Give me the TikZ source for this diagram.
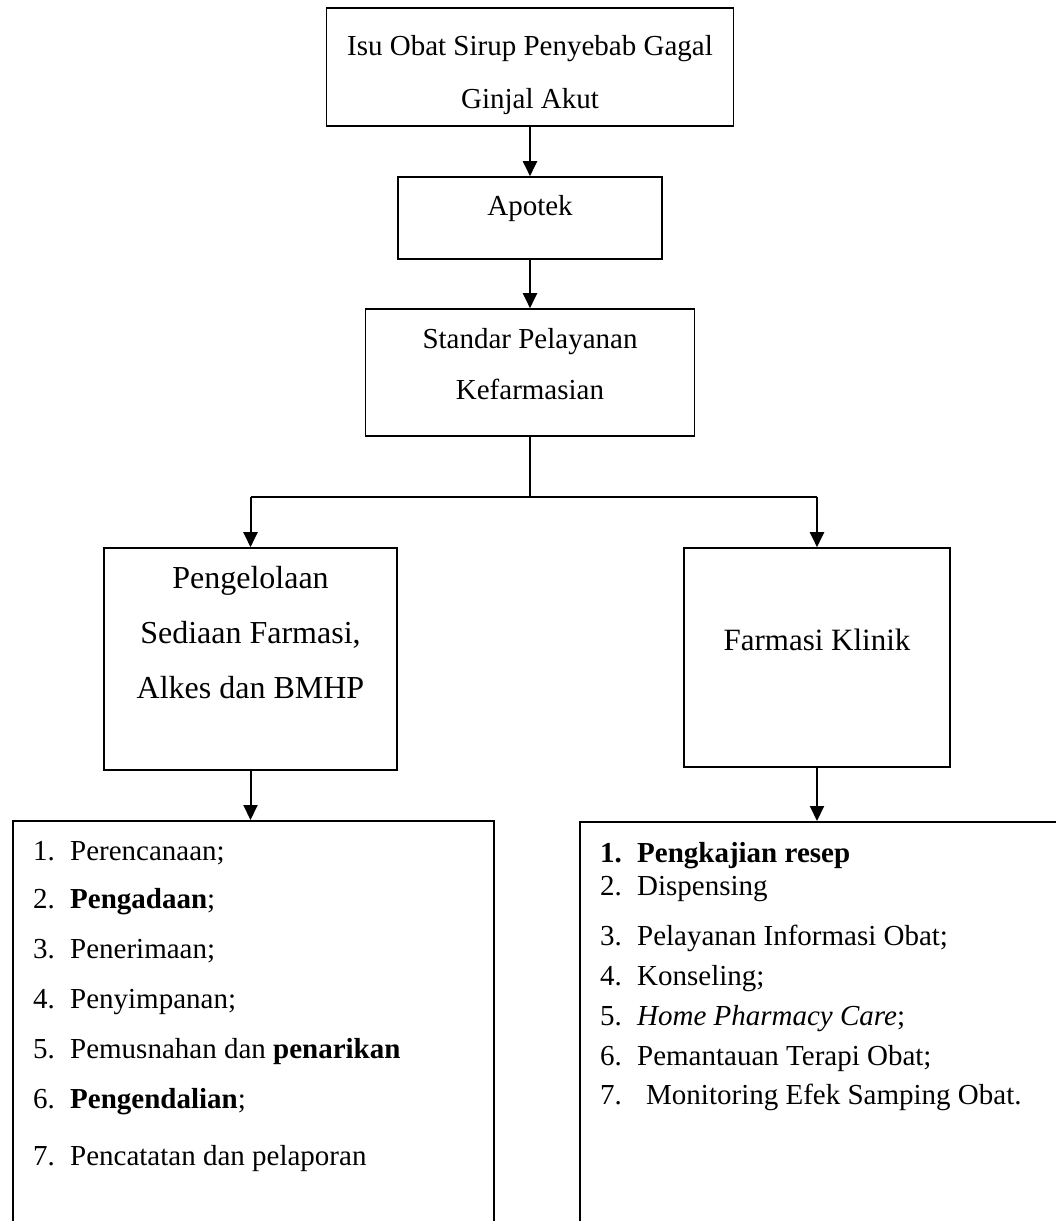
\documentclass[tikz,border=0pt]{standalone}
\usepackage{fontspec}
\setmainfont{Liberation Serif}
\usetikzlibrary{arrows.meta,positioning}
\newcommand{\butir}[3][37pt]{\makebox[#1][l]{#2}#3}

\begin{document}
\begin{tikzpicture}[x=1pt,y=-1pt,>={Triangle[width=14pt,length=15pt]}]
	\tikzstyle{kotak}=[draw, rectangle, line width=1.6pt, inner sep=0pt, anchor=base, align=center, font=\fontsize{29}{53}\selectfont]
	\tikzstyle{daftar}=[draw, rectangle, line width=1.6pt, inner sep=0pt, anchor=north west, minimum height=500pt]
	\tikzstyle{butir}=[anchor=base west, inner sep=0pt, font=\fontsize{29}{35}\selectfont]
	\tikzstyle{panah}=[->, line width=2pt]
	\tikzstyle{garis}=[line width=1.2pt]
	
	\path[use as bounding box, clip] (0,0) rectangle (1056,1221);
	
	% base = last line of the text
	\node[kotak, minimum width=407pt, text height=100pt, text depth=18pt] (isu) at (530,108) {Isu Obat Sirup Penyebab Gagal\\Ginjal Akut};
	\node[kotak, minimum width=264pt, text height=38pt, text depth=44pt] (apotek) at (530,215) {Apotek};
	\node[kotak, minimum width=329pt, text height=90pt, text depth=37pt, font=\fontsize{29}{51}\selectfont] (standar) at (530,399) {Standar Pelayanan\\Kefarmasian};
	\node[kotak, minimum width=293pt, text height=150pt, text depth=72pt, font=\fontsize{32}{55}\selectfont] (kelola) at (250.5,698) {Pengelolaan\\Sediaan Farmasi,\\Alkes dan BMHP};
	\node[kotak, minimum width=266pt, text height=102pt, text depth=117pt, font=\fontsize{31}{40}\selectfont] (klinik) at (817,650) {Farmasi Klinik};
	
	\node[daftar, minimum width=481pt] (daftarkiri) at (12,820) {};
	\node[daftar, minimum width=520pt] (daftarkanan) at (579,821) {};
	
	% pengelolaan sediaan
	\node[butir] (k1) at (33,860) {\butir{1.}{Perencanaan;}};
	\node[butir] (k2) at (33,908) {\butir{2.}{\textbf{Pengadaan};}};
	\node[butir] (k3) at (33,958) {\butir{3.}{Penerimaan;}};
	\node[butir] (k4) at (33,1008) {\butir{4.}{Penyimpanan;}};
	\node[butir] (k5) at (33,1058) {\butir{5.}{Pemusnahan dan \textbf{penarikan}}};
	\node[butir] (k6) at (33,1108) {\butir{6.}{\textbf{Pengendalian};}};
	\node[butir] (k7) at (33,1165) {\butir{7.}{Pencatatan dan pelaporan}};
	
	% farmasi klinik
	\node[butir] (f1) at (600,862) {\bfseries\butir{1.}{Pengkajian resep}};
	\node[butir] (f2) at (600,895) {\butir{2.}{Dispensing}};
	\node[butir] (f3) at (600,945) {\butir{3.}{Pelayanan Informasi Obat;}};
	\node[butir] (f4) at (600,985) {\butir{4.}{Konseling;}};
	\node[butir] (f5) at (600,1025) {\butir{5.}{\textit{Home Pharmacy Care};}};
	\node[butir] (f6) at (600,1065) {\butir{6.}{Pemantauan Terapi Obat;}};
	\node[butir] (f7) at (600,1104) {\butir[46pt]{7.}{Monitoring Efek Samping Obat.}};
	
	\coordinate (cabang) at (530,497);
	
	\draw[panah] (isu.south) -- (apotek.north);
	\draw[panah] (apotek.south) -- (standar.north);
	\draw[garis] (standar.south) -- (cabang);
	\draw[garis] (kelola.north |- cabang) -- (klinik.north |- cabang);
	\draw[panah] (kelola.north |- cabang) -- (kelola.north);
	\draw[panah] (klinik.north |- cabang) -- (klinik.north);
	\draw[panah] (kelola.south) -- (kelola.south |- daftarkiri.north);
	\draw[panah] (klinik.south) -- (klinik.south |- daftarkanan.north);
	
\end{tikzpicture}
\end{document}
